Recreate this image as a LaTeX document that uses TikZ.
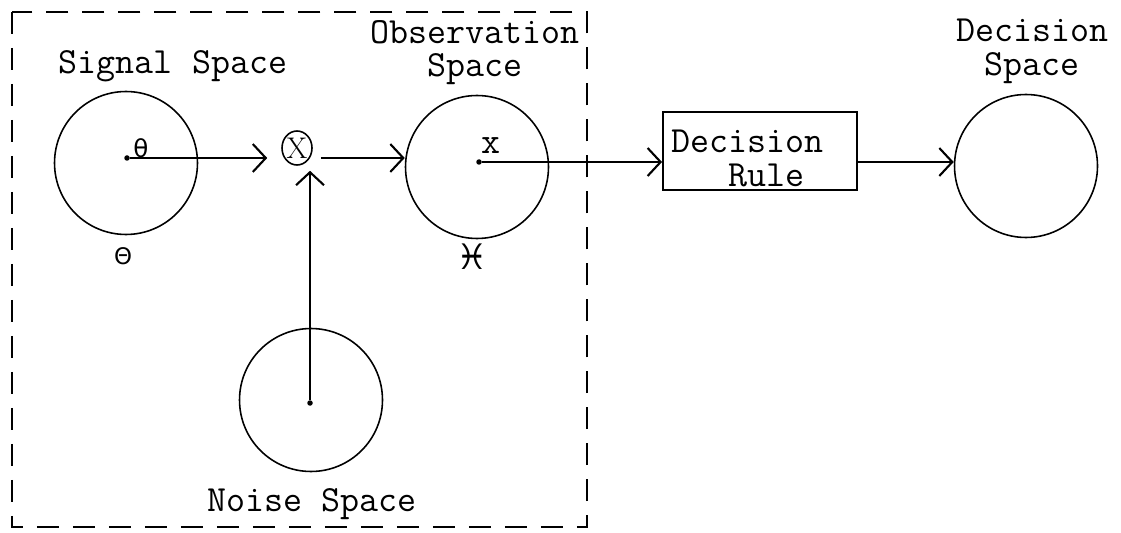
\documentclass[tikz,border=0pt]{standalone}
\usepackage{fontspec}
\newfontfamily\symbfont{DejaVu Sans}
\usetikzlibrary{arrows.meta,positioning,shapes.geometric}

\begin{document}
\begin{tikzpicture}[x=0.02cm,y=-0.02cm]
  \tikzset{
    space/.style={circle,draw,line width=0.9pt,minimum size=2.86cm,inner sep=0pt},
    hub/.style={circle,fill,inner sep=0pt,minimum size=0.11cm},
    lbl/.style={font=\fontsize{21}{19}\selectfont\ttfamily,inner sep=0pt,align=center},
    sym/.style={inner sep=0pt},
    flow/.style={line width=1.2pt,-{Straight Barb[length=0.26cm,width=0.56cm,line width=1.2pt]}},
    frame/.style={line width=1.2pt,dash pattern=on 0.44cm off 0.28cm}
  }
  \useasboundingbox (0,0) rectangle (1121,533);
  % the spaces
  \node[space] (sig) at (126,163) {};
  \node[hub] (sigc) at (127,158) {};
  \node[space] (obs) at (477,167) {};
  \node[hub] (obsc) at (479,162) {};
  \node[space] (noise) at (311,400) {};
  \node[hub] (noisec) at (310,403) {};
  \node[space] (dec) at (1026,166) {};
  \node[ellipse,draw,line width=0.9pt,minimum width=0.6cm,minimum height=0.68cm,inner sep=0pt,
        font=\fontsize{17}{17}\selectfont\rmfamily] (mult) at (297,148) {X};
  \node[draw,line width=1.1pt,minimum width=3.88cm,minimum height=1.56cm] (rule) at (760,151) {};
  % labels
  \node[lbl,anchor=base] (siglbl) at (173,74) {Signal Space};
  \node[lbl,anchor=north] (obslbl) at (475,20) {Observation\\Space};
  \node[lbl,anchor=north] (declbl) at (1032,19) {Decision\\Space};
  \node[lbl,anchor=base] (noiselbl) at (312,511) {Noise Space};
  \node[lbl,align=left,anchor=north west] (ruletxt) at (671,130) {Decision\\\phantom{Dec}Rule};
  \node[sym,font=\fontsize{14}{14}\symbfont] (thlbl) at (141,148) {θ};
  \node[sym,font=\fontsize{13}{13}\symbfont] (Thlbl) at (123,256) {Θ};
  \node[lbl] (xlbl) at (491,146) {x};
  \node[sym,font=\fontsize{20}{20}\symbfont] (Xlbl) at (472,257) {♓};
  % connectors
  \draw[flow,shorten >=0.28cm] (sigc) -- (sigc -| mult.west);
  \draw[flow,shorten <=0.16cm] (mult.east |- sigc) -- (obs.west |- sigc);
  \draw[flow,shorten >=0.1cm] (noisec) -- (mult.south -| noisec);
  \draw[flow] (obsc) -- (obsc -| rule.west);
  \draw[flow] (rule.east |- obsc) -- (dec.west |- obsc);
  % box round signal, noise and observation
  \draw[frame] (12,12) rectangle (587,527);
\end{tikzpicture}
\end{document}
